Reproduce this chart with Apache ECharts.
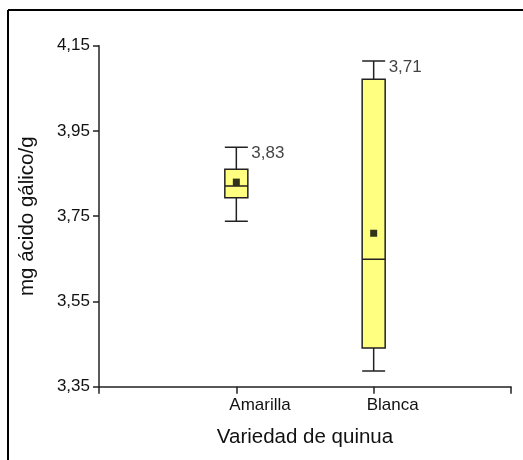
<!DOCTYPE html>
<html>
<head>
<meta charset="utf-8">
<script src="https://cdn.jsdelivr.net/npm/echarts@6/dist/echarts.min.js"></script>
<style>
  html, body { margin: 0; padding: 0; background: #fff; }
  #chart { width: 523px; height: 460px; }
</style>
</head>
<body>
<div id="chart"></div>
<script>
// Quinoa varieties and their gallic-acid content (mg/g)
const categories = ['', 'Amarilla', 'Blanca', ' '];
const varieties = ['Amarilla', 'Blanca'];
const whiskerLow = [3.738, 3.387];
const quartile1 = [3.793, 3.441];
const medians = [3.821, 3.649];
const quartile3 = [3.860, 4.071];
const whiskerHigh = [3.912, 4.114];
const means = [3.83, 3.71];
const yTicks = [3.35, 3.55, 3.75, 3.95, 4.15];

const fmt = v => v.toFixed(2).replace('.', ',');
const FONT = 'Arial, "Liberation Sans", sans-serif';
const INK = '#111';

const boxData = varieties.map((v, i) => [v, whiskerLow[i], quartile1[i], medians[i], quartile3[i], whiskerHigh[i]]);
const meanData = varieties.map((v, i) => [v, means[i]]);
const labelData = varieties.map((v, i) => ({ value: [v, whiskerHigh[i]], mean: means[i] }));

const chart = echarts.init(document.getElementById('chart'), null, { renderer: 'canvas' });
chart.setOption({
  animation: false,
  backgroundColor: '#fff',
  grid: { left: 99, right: 12, top: 45.7, bottom: 73.3, containLabel: false },
  xAxis: {
    type: 'category',
    data: categories,
    boundaryGap: false,
    name: 'Variedad de quinua',
    nameLocation: 'middle',
    nameGap: 40,
    nameTextStyle: { fontFamily: FONT, fontSize: 20.5, color: INK },
    axisLine: { lineStyle: { color: '#222', width: 1.5 } },
    axisTick: { show: true, length: 7, interval: 0, lineStyle: { color: '#222', width: 1.5 } },
    axisLabel: {
      interval: 0, align: 'left', margin: 10, padding: [0, 0, 0, -7],
      fontFamily: FONT, fontSize: 17, color: INK
    },
    splitLine: { show: false }
  },
  yAxis: {
    type: 'value',
    min: yTicks[0],
    max: yTicks[yTicks.length - 1],
    interval: 0.2,
    name: 'mg ácido gálico/g',
    nameLocation: 'middle',
    nameGap: 61,
    nameTextStyle: { fontFamily: FONT, fontSize: 20.5, color: INK },
    axisLine: { show: true, lineStyle: { color: '#222', width: 1.5 } },
    axisTick: { show: true, length: 6, lineStyle: { color: '#222', width: 1.5 } },
    axisLabel: {
      margin: 9, padding: [4, 0, 0, 0],
      fontFamily: FONT, fontSize: 17, color: INK,
      formatter: fmt
    },
    splitLine: { show: false }
  },
  series: [
    {
      type: 'boxplot',
      data: boxData,
      encode: { x: 0, y: [1, 2, 3, 4, 5] },
      boxWidth: [23, 23],
      itemStyle: { color: '#FFFF80', borderColor: '#222', borderWidth: 1.5 },
      emphasis: { disabled: true },
      z: 2
    },
    {
      type: 'scatter',
      data: meanData,
      symbol: 'rect',
      symbolSize: 7,
      itemStyle: { color: '#000' },
      emphasis: { disabled: true },
      z: 3
    },
    {
      type: 'scatter',
      data: labelData,
      symbolSize: 0,
      itemStyle: { color: 'transparent' },
      label: {
        show: true,
        position: 'right',
        distance: 15,
        offset: [0, 6],
        fontFamily: FONT,
        fontSize: 17,
        color: INK,
        formatter: p => fmt(p.data.mean)
      },
      emphasis: { disabled: true },
      z: 3
    }
  ],
  graphic: [
    { type: 'line', shape: { x1: 8, y1: 10, x2: 8, y2: 460 }, style: { stroke: '#000', lineWidth: 2 } },
    { type: 'line', shape: { x1: 8, y1: 10, x2: 523, y2: 10 }, style: { stroke: '#000', lineWidth: 2 } }
  ]
});
</script>
</body>
</html>
